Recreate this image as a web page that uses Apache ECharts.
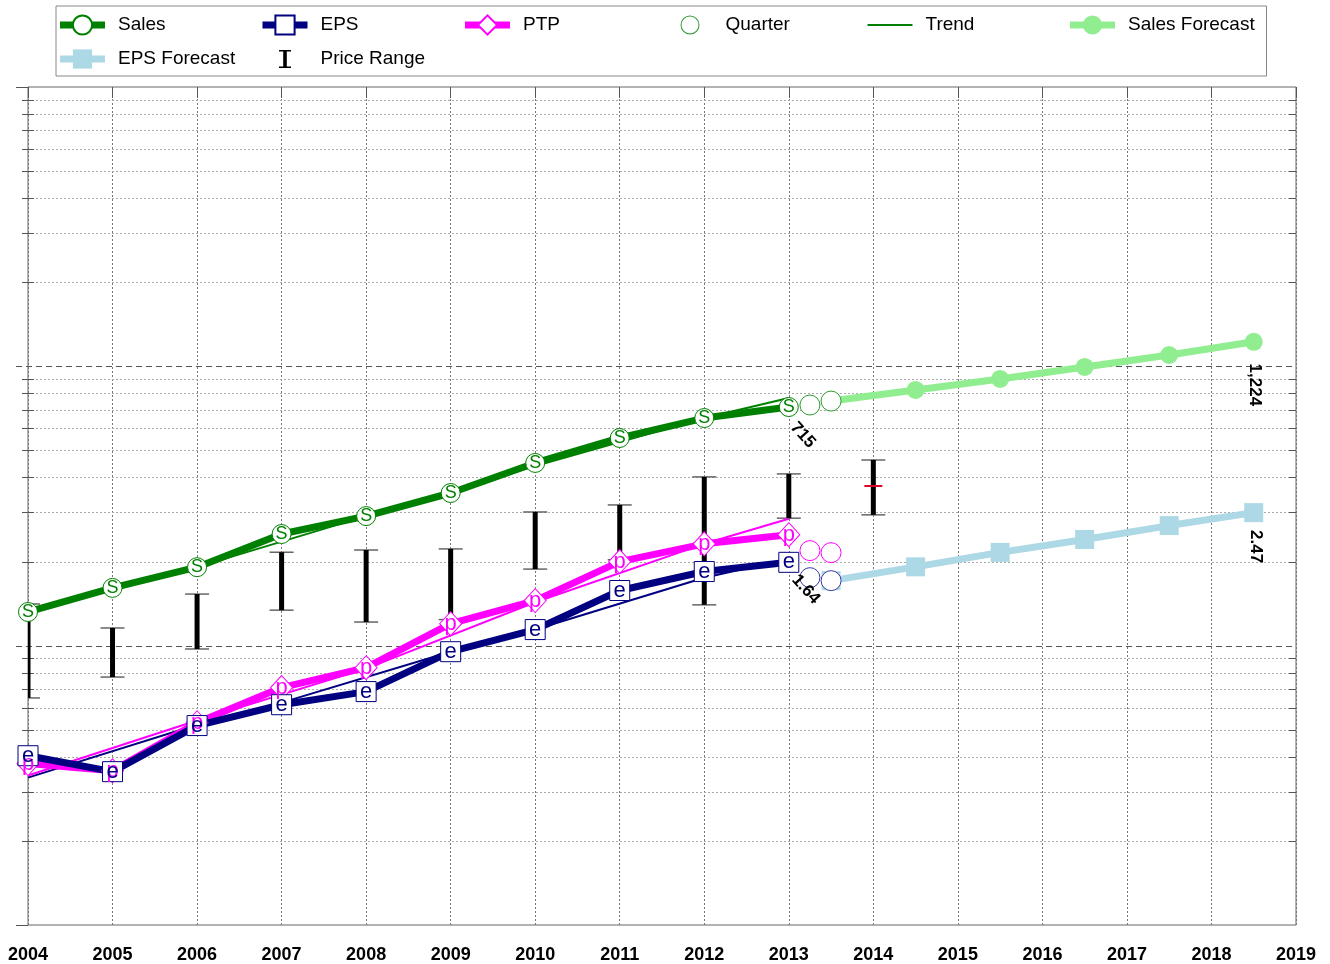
<!DOCTYPE html>
<html><head><meta charset="utf-8">
<script src="https://cdn.jsdelivr.net/npm/echarts@6/dist/echarts.min.js"></script>
<style>html,body{margin:0;padding:0;background:#fff}#c{width:1330px;height:964px}</style>
</head><body><div id="c"></div>
<script>
// ---------- data ----------
const years = [2004, 2005, 2006, 2007, 2008, 2009, 2010, 2011, 2012, 2013];
const sales = [132, 161, 191, 251, 291, 352, 451, 554, 653, 715];
const eps = [0.333, 0.292, 0.427, 0.507, 0.565, 0.785, 0.942, 1.30, 1.52, 1.64];
const ptp = [0.312, 0.294, 0.437, 0.584, 0.688, 0.989, 1.196, 1.65, 1.91, 2.06];

const quarterX = [2013.25, 2013.5];
const salesQuarter = [727, 751];
const epsQuarter = [1.445, 1.41];
const ptpQuarter = [1.806, 1.776];

const forecastX = [2013.5, 2014.5, 2015.5, 2016.5, 2017.5, 2018.5];
const salesForecast = [751, 823, 901, 995, 1098, 1224];
const epsForecast = [1.41, 1.58, 1.78, 1.98, 2.22, 2.47];

const trendSalesX = [2004, 2006, 2008, 2010, 2012, 2013];
const trendSales = [132, 191, 291, 440, 653, 770];
const trendEpsX = [2004, 2006, 2007, 2009, 2010, 2012, 2013];
const trendEps = [0.278, 0.430, 0.516, 0.785, 0.942, 1.445, 1.69];
const trendPtpX = [2004, 2006, 2008, 2010, 2012, 2013];
const trendPtp = [0.283, 0.445, 0.683, 1.18, 1.91, 2.35];

const priceYears = [2004, 2005, 2006, 2007, 2008, 2009, 2010, 2011, 2012, 2013, 2014];
const priceLow = [6.50, 7.72, 9.73, 13.4, 12.15, 12.4, 18.8, 20.3, 14.0, 28.6, 29.4];
const priceHigh = [14.1, 11.57, 15.3, 21.6, 22.0, 22.2, 30.1, 31.9, 40.2, 41.2, 46.2];
const currentPriceYear = 2014;
const currentPrice = 37.3;

const xTicks = [2004, 2019];
const salesRange = [10, 10000];
const epsRange = [0.0825, 82.5];
const priceRange = [1, 1000];

// ---------- helpers ----------
const FONT = 'Liberation Sans, Arial, sans-serif';
const GREEN = '#008000', NAVY = '#000080', MAG = '#FF00FF';
const LGREEN = '#90EE90', LBLUE = '#ADD8E6';
const zip = (xs, ys) => xs.map((x, i) => [x, ys[i]]);

const gridVals = [];
for (let e = 1; e <= 3; e++) for (let m = 1; m <= 9; m++) gridVals.push([2004, m * Math.pow(10, e)]);
gridVals.push([2004, 10000]);

const priceData = priceYears.map((y, i) => [y, priceLow[i], priceHigh[i], y === currentPriceYear ? currentPrice : 0]);

// legend icons spanning the full 45x24 item box (tiny corner anchors keep the box)
const BOX = 'M0,0L0.01,0L0,0.01Z M45,24L44.99,24L45,23.99Z ';
const RING_ICON = 'path://' + BOX + 'M13,12A9.5,9.5 0 1,0 32,12A9.5,9.5 0 1,0 13,12Z M14,12A8.5,8.5 0 1,1 31,12A8.5,8.5 0 1,1 14,12Z';
const IBEAM_ICON = 'path://' + BOX + 'M16.5,3H28.5V4.5H24.3V19.5H28.5V21H16.5V19.5H20.7V4.5H16.5Z';
const TEXT_W = 131, TEXT_W_BEFORE_ICON = 134.5;

const chart = echarts.init(document.getElementById('c'));

const mainLine = (name, data, color, symbol, size, letter, fs, yIdx) => ({
  name, type: 'line', data, xAxisIndex: 0, yAxisIndex: yIdx,
  symbol, symbolSize: size, showSymbol: true,
  lineStyle: { color, width: 7 },
  itemStyle: { color: '#fff', borderColor: color, borderWidth: 1 },
  label: { show: true, position: 'inside', formatter: letter, color, fontSize: fs, fontFamily: FONT },
  emphasis: { disabled: true }, z: 5
});
const trendLine = (name, data, color, yIdx) => ({
  name, type: 'line', data, yAxisIndex: yIdx, symbol: 'none',
  lineStyle: { color, width: 2 }, itemStyle: { color }, emphasis: { disabled: true }, z: 4
});
const quarter = (name, data, color, yIdx) => ({
  name, type: 'scatter', data, yAxisIndex: yIdx, symbol: 'circle', symbolSize: 20,
  itemStyle: { color: '#fff', borderColor: color, borderWidth: 1, opacity: 1 }, emphasis: { disabled: true }, z: 10
});

const option = {
  animation: false,
  textStyle: { fontFamily: FONT },
  grid: { left: 28, right: 34, top: 87, bottom: 39, show: true, borderColor: '#666', borderWidth: 1 },
  legend: {
    left: 56, top: 6, width: 1215,
    padding: [7, 7.5, 5, 0.5],
    borderColor: '#888', borderWidth: 1,
    itemWidth: 45, itemHeight: 24, itemGap: 10,
    textStyle: { fontSize: 19, color: '#000', fontFamily: FONT, width: TEXT_W, padding: [0, 0, 0, 8], lineHeight: 24 },
    data: [
      { name: 'Sales', lineStyle: { width: 7 } },
      { name: 'EPS', lineStyle: { width: 7 } },
      { name: 'PTP', lineStyle: { width: 7 }, textStyle: { width: TEXT_W_BEFORE_ICON } },
      { name: 'Quarter', icon: RING_ICON, itemStyle: { color: '#2e9a2e', borderWidth: 0 } },
      { name: 'Trend', lineStyle: { width: 2 }, itemStyle: { color: 'rgba(0,0,0,0)', borderColor: 'rgba(0,0,0,0)', borderWidth: 0, opacity: 0 } },
      { name: 'Sales Forecast', lineStyle: { width: 7 } },
      { name: 'EPS Forecast', lineStyle: { width: 7 }, textStyle: { width: TEXT_W_BEFORE_ICON } },
      { name: 'Price Range', icon: IBEAM_ICON, itemStyle: { color: '#000', borderWidth: 0 } }
    ]
  },
  xAxis: [{
    type: 'value', min: xTicks[0], max: xTicks[1], interval: 1, position: 'bottom',
    axisLine: { show: false }, axisTick: { show: false },
    axisLabel: { fontSize: 18, fontWeight: 'bold', color: '#000', margin: 21, fontFamily: FONT, formatter: v => String(v) },
    splitLine: { show: true, lineStyle: { type: [2, 2], color: '#777', width: 1 } }
  }, {
    type: 'value', min: xTicks[0], max: xTicks[1], interval: 1, position: 'top',
    axisLine: { show: false }, axisLabel: { show: false }, splitLine: { show: false },
    axisTick: { show: true, inside: true, length: 11, lineStyle: { color: '#555' } }
  }],
  yAxis: [
    { type: 'log', logBase: 10, min: salesRange[0], max: salesRange[1], show: false, splitLine: { show: false } },
    { type: 'log', logBase: 10, min: epsRange[0], max: epsRange[1], show: false, splitLine: { show: false } },
    { type: 'log', logBase: 10, min: priceRange[0], max: priceRange[1], show: false, splitLine: { show: false } }
  ],
  series: [
    {
      name: 'grid', type: 'custom', data: gridVals, xAxisIndex: 0, yAxisIndex: 0, z: 1, silent: true,
      encode: { x: 0, y: 1 },
      renderItem(params, api) {
        const v = api.value(1);
        const cs = params.coordSys;
        const y = Math.round(api.coord([2004, v])[1]) + 0.5;
        const xl = cs.x, xr = cs.x + cs.width;
        const lg = Math.log10(v);
        const decade = Math.abs(lg - Math.round(lg)) < 1e-9;
        const ch = [];
        if (decade) {
          if (v === 10 || v === 10000) {
            ch.push({ type: 'line', shape: { x1: xl - 12, y1: y, x2: xl, y2: y }, style: { stroke: '#555', lineWidth: 1 } });
          } else {
            ch.push({ type: 'line', shape: { x1: xl - 12, y1: y, x2: xr, y2: y }, style: { stroke: '#555', lineWidth: 1, lineDash: [6, 4] } });
          }
        } else {
          ch.push({ type: 'line', shape: { x1: xl, y1: y, x2: xr, y2: y }, style: { stroke: '#aaa', lineWidth: 1, lineDash: [2, 2] } });
          ch.push({ type: 'line', shape: { x1: xl - 6, y1: y, x2: xl + 6, y2: y }, style: { stroke: '#555', lineWidth: 1 } });
          ch.push({ type: 'line', shape: { x1: xr - 7, y1: y, x2: xr, y2: y }, style: { stroke: '#555', lineWidth: 1 } });
        }
        return { type: 'group', children: ch };
      }
    },
    {
      name: 'Price Range', type: 'custom', data: priceData, xAxisIndex: 0, yAxisIndex: 2, z: 2, clip: true,
      encode: { x: 0, y: [1, 2] }, itemStyle: { color: '#000' },
      renderItem(params, api) {
        const x = api.value(0), lo = api.value(1), hi = api.value(2), cur = api.value(3);
        const pl = api.coord([x, lo]), ph = api.coord([x, hi]);
        const ch = [
          { type: 'line', shape: { x1: ph[0] - 12, y1: ph[1], x2: ph[0] + 12, y2: ph[1] }, style: { stroke: '#666', lineWidth: 1.5 } },
          { type: 'line', shape: { x1: pl[0] - 12, y1: pl[1], x2: pl[0] + 12, y2: pl[1] }, style: { stroke: '#666', lineWidth: 1.5 } },
          { type: 'rect', shape: { x: ph[0] - 2.5, y: ph[1], width: 5, height: pl[1] - ph[1] }, style: { fill: '#000' } }
        ];
        if (cur > 0) {
          const pc = api.coord([x, cur]);
          ch.push({ type: 'line', shape: { x1: pc[0] - 9, y1: pc[1], x2: pc[0] + 9, y2: pc[1] }, style: { stroke: '#e0002a', lineWidth: 2 } });
        }
        return { type: 'group', children: ch };
      }
    },
    {
      name: 'Sales Forecast', type: 'line', data: zip(forecastX, salesForecast), yAxisIndex: 0,
      symbol: 'circle', symbolSize: 18, lineStyle: { color: LGREEN, width: 7 }, itemStyle: { color: LGREEN },
      emphasis: { disabled: true }, z: 3
    },
    {
      name: 'EPS Forecast', type: 'line', data: zip(forecastX, epsForecast), yAxisIndex: 1,
      symbol: 'rect', symbolSize: 19, lineStyle: { color: LBLUE, width: 7 }, itemStyle: { color: LBLUE },
      emphasis: { disabled: true }, z: 3
    },
    trendLine('Trend', zip(trendSalesX, trendSales), GREEN, 0),
    trendLine('Trend EPS', zip(trendEpsX, trendEps), NAVY, 1),
    trendLine('Trend PTP', zip(trendPtpX, trendPtp), MAG, 1),
    mainLine('Sales', zip(years, sales), GREEN, 'circle', 19, 'S', 18, 0),
    mainLine('PTP', zip(years, ptp), MAG, 'diamond', [22, 24], 'p', 22, 1),
    mainLine('EPS', zip(years, eps), NAVY, 'rect', 20, 'e', 22, 1),
    quarter('Quarter', zip(quarterX, salesQuarter), '#2e9a2e', 0),
    quarter('Quarter PTP', zip(quarterX, ptpQuarter), MAG, 1),
    quarter('Quarter EPS', zip(quarterX, epsQuarter), '#3a3aa0', 1)
  ]
};
chart.setOption(option);

// value labels placed through the axes' scales
const lastI = years.length - 1, lastF = forecastX.length - 1;
const labelSpecs = [
  { y: 0, pt: [years[lastI], sales[lastI]], text: sales[lastI].toLocaleString('en-US'), dx: 14, dy: 28, rot: -48 },
  { y: 1, pt: [years[lastI], eps[lastI]], text: eps[lastI].toFixed(2), dx: 17, dy: 27, rot: -48 },
  { y: 0, pt: [forecastX[lastF], salesForecast[lastF]], text: salesForecast[lastF].toLocaleString('en-US'), dx: 1, dy: 43, rot: -90 },
  { y: 1, pt: [forecastX[lastF], epsForecast[lastF]], text: epsForecast[lastF].toFixed(2), dx: 2, dy: 34, rot: -90 }
];
const graphics = labelSpecs.map(s => {
  const p = chart.convertToPixel({ xAxisIndex: 0, yAxisIndex: s.y }, s.pt);
  return {
    type: 'text', x: p[0] + s.dx, y: p[1] + s.dy, rotation: s.rot * Math.PI / 180, z: 20,
    style: { text: s.text, align: 'center', verticalAlign: 'middle', fill: '#000', font: 'bold 17px ' + FONT }
  };
});
chart.setOption({ graphic: graphics });
</script></body></html>
